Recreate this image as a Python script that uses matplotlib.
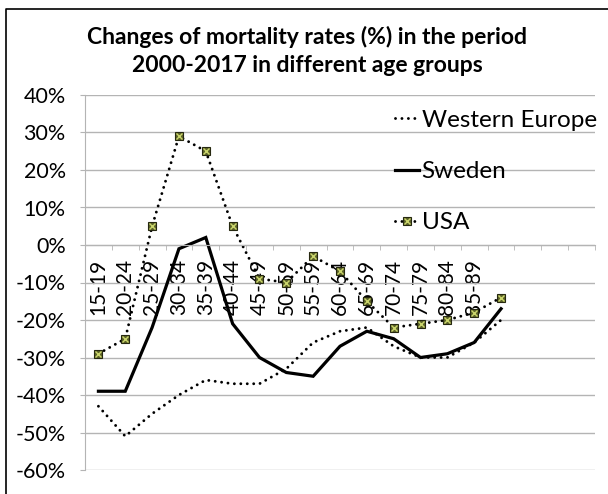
import matplotlib

matplotlib.use("Agg")
import matplotlib.pyplot as plt
from matplotlib.lines import Line2D
from matplotlib.ticker import FixedLocator, FuncFormatter

plt.rcParams["font.family"] = ["Lato", "DejaVu Sans"]

# age groups on the category axis (the chart has 19 slots, only 15 labelled)
age_groups = ["15-19", "20-24", "25-29", "30-34", "35-39", "40-44", "45-49",
              "50-59", "55-59", "60-64", "65-69", "70-74", "75-79", "80-84",
              "85-89", "", "", "", ""]

western_europe = [-43, -51, -45, -40, -36, -37, -37, -33, -26, -23, -22, -27, -30, -30, -26, -20]
sweden = [-39, -39, -22, -1, 2, -21, -30, -34, -35, -27, -23, -25, -30, -29, -26, -17]
usa = [-29, -25, 5, 29, 25, 5, -9, -10, -3, -7, -15, -22, -21, -20, -18, -14]

W, H = 608, 494
fig = plt.figure(figsize=(W / 100, H / 100), dpi=100)
ax = fig.add_axes([85 / W, 1 - 470 / H, (595 - 85) / W, (470 - 95) / H])

x = list(range(len(western_europe)))
grid_col = "#b4b4b4"

ax.plot(x, western_europe, color="black", lw=2.1, linestyle=(0, (0.01, 2.2)),
        dash_capstyle="round", label="Western Europe")
ax.plot(x, sweden, color="black", lw=2.3, solid_joinstyle="miter", label="Sweden")
usa_line, = ax.plot(x, usa, color="black", lw=2.1, linestyle=(0, (0.01, 2.2)),
                    dash_capstyle="round", marker="s", markersize=6,
                    markerfacecolor="#5c6328", markeredgecolor="#262810", markeredgewidth=0.8)
usa_x, = ax.plot(x, usa, linestyle="none", marker="x", markersize=4.2,
                 markeredgecolor="#cbd66c", markeredgewidth=1.0)

ax.set_xlim(-0.5, len(age_groups) - 0.5)
ax.set_ylim(-60, 40)
ax.set_yticks(range(-60, 41, 10))
ax.yaxis.set_major_formatter(FuncFormatter(lambda v, _: f"{v:.0f}%"))
ax.grid(axis="y", color=grid_col, lw=1.0)
ax.set_axisbelow(True)

ax.set_xticks(range(len(age_groups)))
ax.set_xticklabels(age_groups)
ax.xaxis.set_minor_locator(FixedLocator([i - 0.5 for i in range(len(age_groups) + 1)]))
ax.tick_params(axis="x", which="major", length=0, pad=10, labelsize=15, labelrotation=90)
ax.tick_params(axis="x", which="minor", length=3.8, color=grid_col, direction="out")
ax.tick_params(axis="y", length=3.8, color=grid_col, labelsize=15.5, pad=10)

ax.spines["bottom"].set_position(("data", 0))
ax.spines["bottom"].set_color(grid_col)
ax.spines["left"].set_color(grid_col)
for side in ("top", "right"):
    ax.spines[side].set_visible(False)

handles = [ax.lines[0], ax.lines[1], (usa_line, usa_x)]
ax.legend(handles, ["Western Europe", "Sweden", "USA"], loc="upper right",
          bbox_to_anchor=(1.025, 0.99), frameon=False, fontsize=17.5, handlelength=1.0,
          handletextpad=0.1, labelspacing=1.25, borderaxespad=0.05, numpoints=1)

fig.text(0.505, 1 - 37 / H, "Changes of mortality rates (%) in the period",
         ha="center", va="center", fontsize=16.5, fontweight="bold")
fig.text(0.505, 1 - 65 / H, "2000-2017 in different age groups",
         ha="center", va="center", fontsize=16.5, fontweight="bold")

# outer frame, only the top and left edges sit inside the picture
fig.add_artist(Line2D([6 / W, 6 / W, 1.0], [0.0, 1 - 9 / H, 1 - 9 / H],
                      transform=fig.transFigure, color="black", lw=1.2))

fig.savefig("out.png", dpi=100)
